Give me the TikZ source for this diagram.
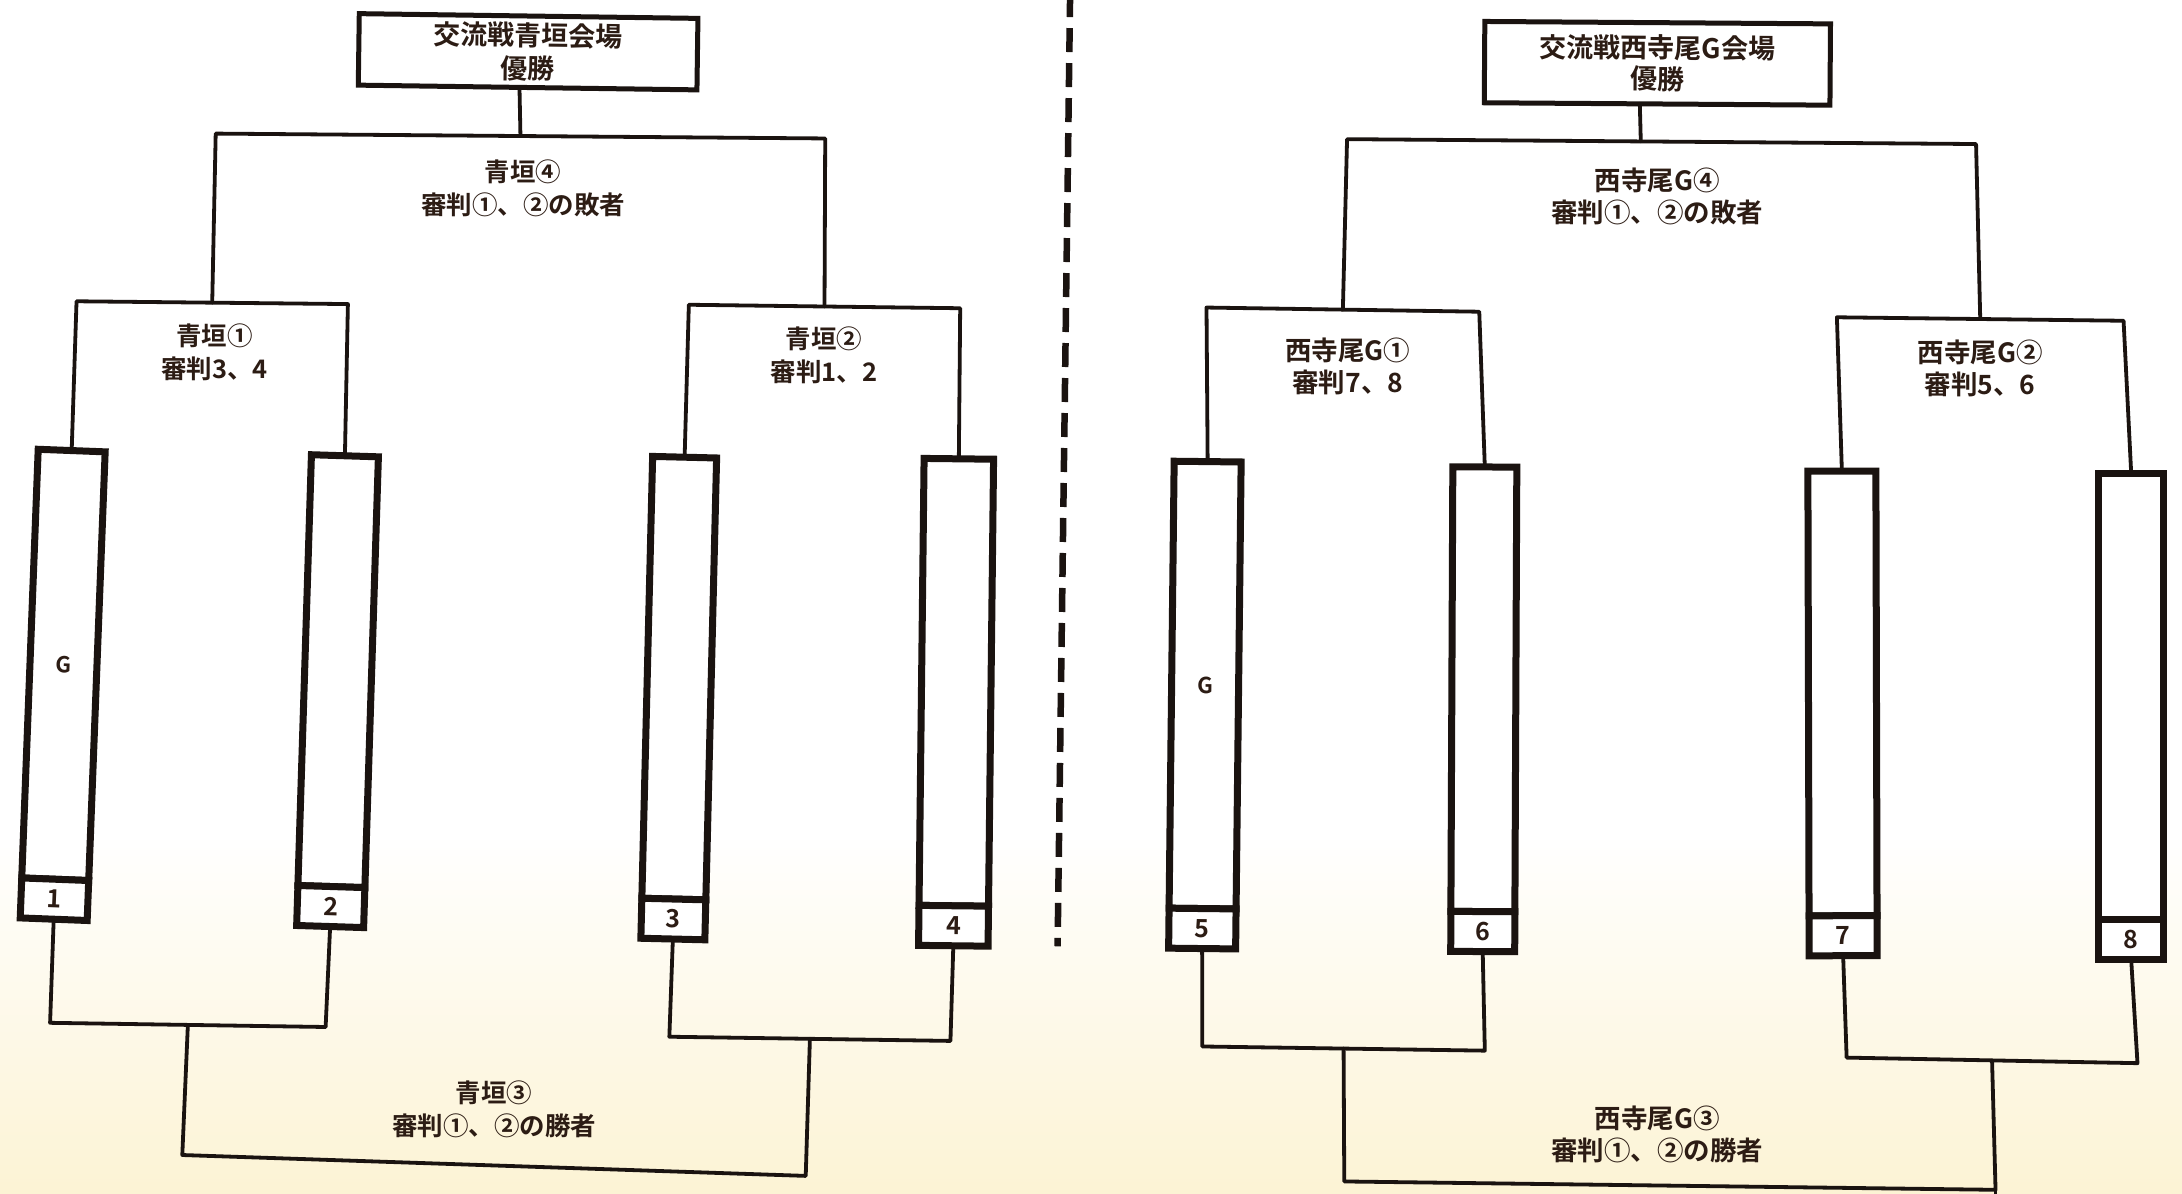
\documentclass[tikz,border=0pt]{standalone}
\usepackage{fontspec}
\setmainfont{Noto Sans CJK JP}[BoldFont={Noto Sans CJK JP Bold}]
\usetikzlibrary{calc}
\definecolor{ink}{RGB}{26,19,16}
\definecolor{txt}{RGB}{44,28,20}
\definecolor{cream}{RGB}{252,243,212}
\begin{document}
\begin{tikzpicture}[x=1.3916pt,y=-1.3916pt,
  conn/.style={draw=ink,line width=3.8pt,line cap=round,line join=round},
  pbox/.style={draw=ink,line width=7pt,fill=white,rectangle,inner sep=0pt,outer sep=0pt,text=txt,font=\fontsize{22}{22}\selectfont\bfseries},
  nbox/.style={pbox,minimum height=40pt,anchor=north,font=\fontsize{25}{25}\selectfont\bfseries},
  topbox/.style={draw=ink,line width=5pt,fill=white,rectangle,inner sep=0pt,outer sep=0pt,align=center,text=txt},
  labL/.style={align=center,text=txt,inner sep=0pt,font=\fontsize{25.5}{33}\selectfont\bfseries},
  labR/.style={align=center,text=txt,inner sep=0pt,font=\fontsize{26.5}{32}\selectfont\bfseries},
  divider/.style={draw=ink,line width=6.5pt,dash pattern=on 24pt off 11pt}]
\useasboundingbox (0,0) rectangle (1568,858);
\clip (0,0) rectangle (1568,858);
\fill[white] (0,0) rectangle (1568,858);
\shade[top color=white,bottom color=cream] (0,600) rectangle (1568,858);

% divider
\coordinate (dv1) at (769,-5);
\coordinate (dv2) at (760,680);
\draw[divider] (dv1) -- (dv2);

% ---------------- left: 青垣 ----------------
\node[topbox,minimum width=338.7pt,minimum height=71.5pt,rotate=-0.8,font=\fontsize{27}{33}\selectfont\bfseries] (t1) at (379.5,37.2) {交流戦青垣会場\\優勝};

\node[pbox,minimum width=67pt,minimum height=429pt,rotate=-2.2] (p1) at (45.6,477.8) {G};
\node[nbox,minimum width=67pt,rotate=-2.2] (n1) at (p1.south) {1};
\node[pbox,minimum width=67pt,minimum height=431pt,rotate=-1.8] (p2) at (243,482.3) {};
\node[nbox,minimum width=67pt,rotate=-1.8] (n2) at (p2.south) {2};
\node[pbox,minimum width=64pt,minimum height=442pt,rotate=-1.4] (p3) at (488.1,487.3) {};
\node[nbox,minimum width=64pt,rotate=-1.4] (n3) at (p3.south) {3};
\node[pbox,minimum width=69.5pt,minimum height=447pt,rotate=-0.65] (p4) at (687.2,490.3) {};
\node[nbox,minimum width=69.5pt,rotate=-0.65] (n4) at (p4.south) {4};

\coordinate (c4L) at (155,96);
\coordinate (c4R) at (593,99.5);
\coordinate (a1L) at (55,216.5);
\coordinate (a1R) at (250,218.5);
\coordinate (a2L) at (495,219);
\coordinate (a2R) at (690,221.5);
\coordinate (d1L) at (36,735);
\coordinate (d1R) at (234,738);
\coordinate (d2L) at (481,745);
\coordinate (d2R) at (683,748);
\coordinate (f1) at (131,830);
\coordinate (f2) at (579,845);

\draw[conn] ($(t1.south west)!0.476!(t1.south east)$) -- ($(c4L)!0.5!(c4R)$);
\draw[conn] ($(a1L)!0.5!(a1R)$) -- (c4L) -- (c4R) -- ($(a2L)!0.5!(a2R)$);
\draw[conn] (p1.north) -- (a1L) -- (a1R) -- (p2.north);
\draw[conn] (p3.north) -- (a2L) -- (a2R) -- (p4.north);
\draw[conn] (n1.south) -- (d1L) -- (d1R) -- (n2.south);
\draw[conn] (n3.south) -- (d2L) -- (d2R) -- (n4.south);
\draw[conn] ($(d1L)!0.5!(d1R)$) -- (f1) -- (f2) -- ($(d2L)!0.5!(d2R)$);

\node[labL] (l4) at (376,135.5) {青垣④\\審判①、②の敗者};
\node[labL] (l1) at (154,253.5) {青垣①\\審判3、4};
\node[labL] (l2) at (592,255) {青垣②\\審判1、2};
\node[labL] (l3) at (355,797) {青垣③\\審判①、②の勝者};

% ---------------- right: 西寺尾G ----------------
\node[topbox,minimum width=345.7pt,minimum height=81.3pt,rotate=-0.4,font=\fontsize{27}{31}\selectfont\bfseries] (t2) at (1191,45.5) {交流戦西寺尾G会場\\優勝};

\node[pbox,minimum width=67pt,minimum height=447pt,rotate=-0.65] (p5) at (866,492.3) {G};
\node[nbox,minimum width=67pt,rotate=-0.65] (n5) at (p5.south) {5};
\node[pbox,minimum width=64pt,minimum height=444.6pt,rotate=-0.25] (p6) at (1066.3,495.3) {};
\node[nbox,minimum width=64pt,rotate=-0.25] (n6) at (p6.south) {6};
\node[pbox,minimum width=68pt,minimum height=444.6pt,rotate=0.15] (p7) at (1324,498.3) {};
\node[nbox,minimum width=68pt,rotate=0.15] (n7) at (p7.south) {7};
\node[pbox,minimum width=65.4pt,minimum height=446pt] (p8) at (1531.5,500.8) {};
\node[nbox,minimum width=65.4pt] (n8) at (p8.south) {8};

\coordinate (c8L) at (968,100);
\coordinate (c8R) at (1420,103.5);
\coordinate (b1L) at (867,221);
\coordinate (b1R) at (1063,224);
\coordinate (b2L) at (1320,228);
\coordinate (b2R) at (1526,230.5);
\coordinate (g1L) at (864,752);
\coordinate (g1R) at (1067,755);
\coordinate (g2L) at (1327,760);
\coordinate (g2R) at (1536,764);
\coordinate (h1) at (966,849);
\coordinate (h2) at (1434,855);
\coordinate (h3) at (1434,870);

\draw[conn] ($(t2.south west)!0.45!(t2.south east)$) -- ($(c8L)!0.467!(c8R)$);
\draw[conn] ($(b1L)!0.5!(b1R)$) -- (c8L) -- (c8R) -- ($(b2L)!0.5!(b2R)$);
\draw[conn] (p5.north) -- (b1L) -- (b1R) -- (p6.north);
\draw[conn] (p7.north) -- (b2L) -- (b2R) -- (p8.north);
\draw[conn] (n5.south) -- (g1L) -- (g1R) -- (n6.south);
\draw[conn] (n7.south) -- (g2L) -- (g2R) -- (n8.south);
\draw[conn] ($(g1L)!0.5!(g1R)$) -- (h1) -- (h2) -- ($(g2L)!0.5!(g2R)$);
\draw[conn] (h2) -- (h3);

\node[labR] (r4) at (1191,141) {西寺尾G④\\審判①、②の敗者};
\node[labR] (r1) at (968.5,263) {西寺尾G①\\審判7、8};
\node[labR] (r2) at (1423,264.5) {西寺尾G②\\審判5、6};
\node[labR] (r3) at (1191,815) {西寺尾G③\\審判①、②の勝者};
\end{tikzpicture}
\end{document}
